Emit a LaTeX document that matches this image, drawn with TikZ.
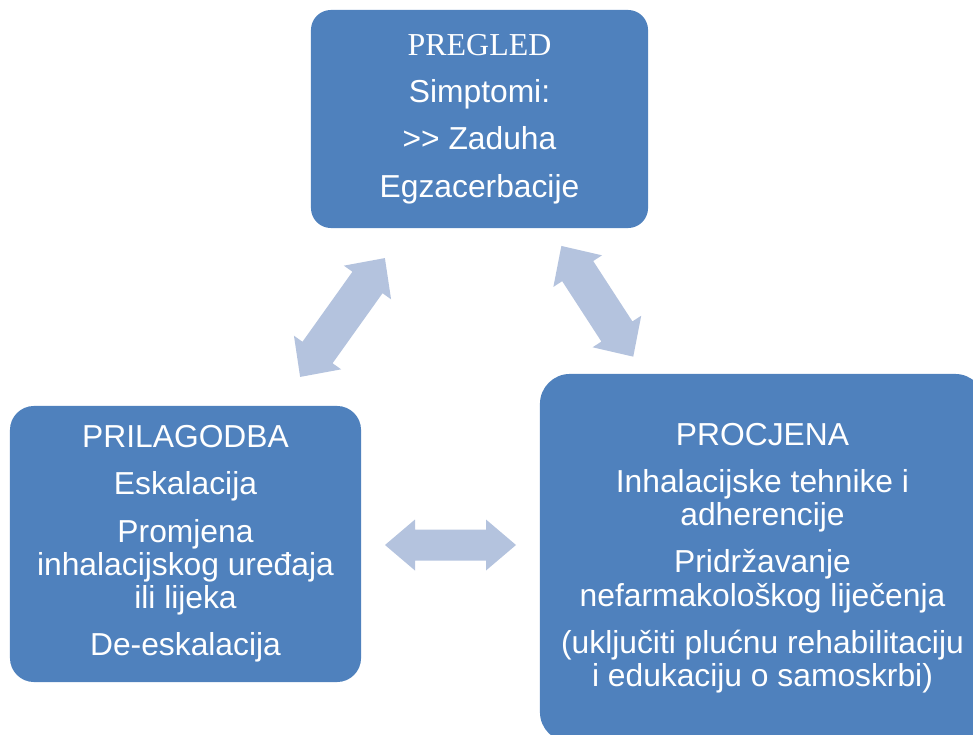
\documentclass[tikz,border=0pt]{standalone}
\usepackage{fontspec}
\setmainfont{Liberation Sans}
\newfontfamily\timesfont{Liberation Serif}
\usepackage{tikz}
\usetikzlibrary{positioning}
\definecolor{myblue}{RGB}{79,129,189}
\definecolor{lightarrow}{RGB}{180,195,222}
\newlength\boxgap
\setlength\boxgap{10pt}
% block double arrow: centre, angle, length, head width, shaft width, head length
\newcommand\dblarrow[6]{%
  \begin{scope}[shift={#1},rotate=#2]
    \fill[lightarrow] (-#3/2,0) -- (-#3/2+#6,#4/2) -- (-#3/2+#6,#5/2) -- (#3/2-#6,#5/2)
      -- (#3/2-#6,#4/2) -- (#3/2,0) -- (#3/2-#6,-#4/2) -- (#3/2-#6,-#5/2)
      -- (-#3/2+#6,-#5/2) -- (-#3/2+#6,-#4/2) -- cycle;
  \end{scope}}

\begin{document}
\begin{tikzpicture}[x=0.025cm,y=-0.025cm,
    stagebox/.style={fill=myblue,text=white,align=center,inner sep=0pt,
      font={\fontsize{22.6pt}{23.6pt}\selectfont}}]
    \useasboundingbox (0,0) rectangle (973,735);
    \begin{scope}
    \clip (0,0) rectangle (973,735);

    % PREGLED
    \node[stagebox,minimum width=8.425cm,minimum height=5.45cm,rounded corners=0.5cm] (pregled) at (479.5,119)
        {{\timesfont\fontsize{22.7pt}{23.6pt}\selectfont PREGLED}\\[\boxgap]
         Simptomi:\\[\boxgap] >{}> Zaduha\\[\boxgap] Egzacerbacije};

    % PRILAGODBA
    \node[stagebox,minimum width=8.775cm,minimum height=6.9cm,rounded corners=0.6cm] (prilagodba) at (185.5,544)
        {PRILAGODBA\\[\boxgap] Eskalacija\\[\boxgap] Promjena\\ inhalacijskog uređaja\\ ili lijeka\\[\boxgap] De-eskalacija};

    % PROCJENA
    \node[stagebox,minimum width=11.125cm,minimum height=9.2cm,rounded corners=0.75cm] (procjena) at (762.5,558)
        {PROCJENA\\[\boxgap] Inhalacijske tehnike i\\ adherencije\\[\boxgap] Pridržavanje\\ nefarmakološkog liječenja\\[\boxgap]
         (uključiti plućnu rehabilitaciju\\ i edukaciju o samoskrbi)};
    \end{scope}

    % Arrows
    \coordinate (arrow_left) at (342.5,317.5);
    \coordinate (arrow_right) at (597.3,301.3);
    \coordinate (arrow_bottom) at (450.5,545);
    \dblarrow{(arrow_left)}{54.5}{146}{58}{37}{30}
    \dblarrow{(arrow_right)}{-57}{132}{58}{37}{30}
    \dblarrow{(arrow_bottom)}{0}{131}{51}{31}{30}
\end{tikzpicture}
\end{document}
